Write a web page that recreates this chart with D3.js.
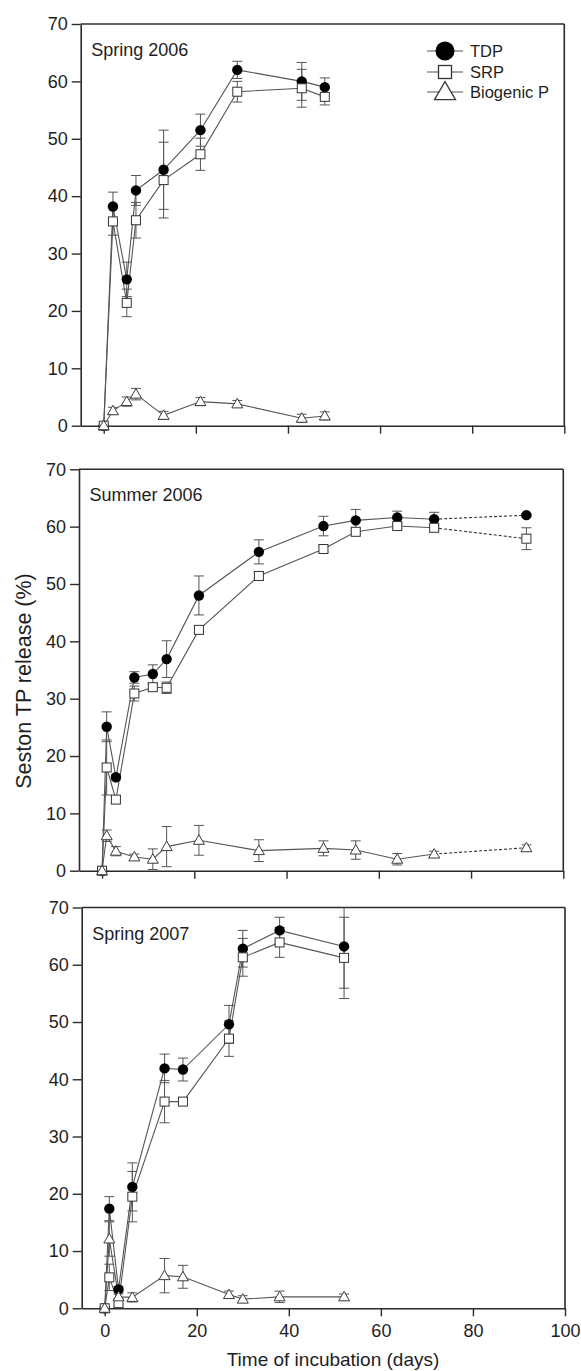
<!DOCTYPE html>
<html lang="en">
<head>
<meta charset="utf-8">
<script src="https://d3js.org/d3.v7.min.js"></script>
<style>
  body { margin: 0; background: #fff; }
  svg { display: block; font-family: "Liberation Sans", Arial, sans-serif; }
</style>
</head>
<body>
<svg id="chart" width="581" height="1371"></svg>
<script>
// ---- data ----
const xTicks = [0, 20, 40, 60, 80, 100];
const yTicks = [0, 10, 20, 30, 40, 50, 60, 70];
const seriesNames = ['TDP', 'SRP', 'Biogenic P'];
const panelTitles = ['Spring 2006', 'Summer 2006', 'Spring 2007'];

// Spring 2006
const daysSp06 = [0, 2, 5, 7, 13, 21, 29, 43, 48];
const tdpSp06 = [0, 38.2, 25.5, 41.0, 44.6, 51.5, 62.0, 60.0, 59.0];
const tdpErrSp06 = [0, 2.5, 3.0, 2.6, 6.9, 2.8, 1.5, 3.3, 1.6];
const srpSp06 = [0, 35.6, 21.4, 35.8, 42.8, 47.3, 58.2, 58.8, 57.3];
const srpErrSp06 = [0, 2.4, 2.4, 3.1, 6.6, 2.8, 1.8, 3.3, 1.4];
const bioSp06 = [0, 2.6, 4.2, 5.5, 1.8, 4.2, 3.8, 1.3, 1.7];
const bioErrSp06 = [0, 0.6, 0.8, 1.0, 0.7, 0.7, 0.6, 0.7, 0.7];

// Summer 2006 (last segment dashed)
const daysSu06 = [0, 1, 3, 7, 11, 14, 21, 34, 48, 55, 64, 72, 92];
const tdpSu06 = [0, 25.1, 16.3, 33.7, 34.3, 36.9, 48.0, 55.6, 60.1, 61.1, 61.6, 61.3, 62.0];
const tdpErrSu06 = [0, 2.6, 0.5, 1.0, 1.6, 3.2, 3.4, 2.1, 1.7, 1.9, 1.1, 1.2, 0.3];
const srpSu06 = [0, 18.0, 12.4, 30.9, 32.0, 31.9, 42.0, 51.4, 56.1, 59.1, 60.1, 59.8, 57.9];
const srpErrSu06 = [0, 4.8, 0.5, 1.3, 0.5, 1.0, 0.5, 0.6, 0.5, 0.5, 0.5, 0.5, 1.9];
const bioSu06 = [0, 6.1, 3.4, 2.4, 2.0, 4.2, 5.3, 3.5, 3.9, 3.6, 2.0, 2.9, 4.0];
const bioErrSu06 = [0, 1.0, 0.8, 0.5, 1.8, 3.5, 2.6, 1.9, 1.3, 1.6, 1.0, 0.5, 0.5];
const dashFromSu06 = 11;

// Spring 2007
const daysSp07 = [0, 1, 3, 6, 13, 17, 27, 30, 38, 52];
const tdpSp07 = [0, 17.4, 3.3, 21.2, 41.9, 41.7, 49.6, 62.8, 66.0, 63.2];
const tdpErrSp07 = [0, 2.1, 0.5, 4.2, 2.5, 2.0, 3.3, 3.2, 2.3, 7.3];
const srpSp07 = [0, 5.4, 0.9, 19.5, 36.1, 36.1, 47.1, 61.3, 63.9, 61.2];
const srpErrSp07 = [0, 2.3, 0.5, 4.4, 3.7, 0.5, 3.1, 3.3, 2.6, 7.1];
const bioSp07 = [0, 12.1, 2.0, 1.9, 5.7, 5.5, 2.4, 1.6, 2.0, 2.0];
const bioErrSp07 = [0, 3.0, 0.5, 0.8, 3.0, 2.0, 0.6, 0.6, 1.0, 0.5];

const panels = [
  { title: panelTitles[0], days: daysSp06, dashFrom: null,
    series: [[tdpSp06, tdpErrSp06], [srpSp06, srpErrSp06], [bioSp06, bioErrSp06]] },
  { title: panelTitles[1], days: daysSu06, dashFrom: dashFromSu06,
    series: [[tdpSu06, tdpErrSu06], [srpSu06, srpErrSu06], [bioSu06, bioErrSu06]] },
  { title: panelTitles[2], days: daysSp07, dashFrom: null,
    series: [[tdpSp07, tdpErrSp07], [srpSp07, srpErrSp07], [bioSp07, bioErrSp07]] }
];

// ---- layout ----
const frames = [
  { top: 24, bottom: 425.7, left: 80.7, right: 564.3 },
  { top: 469.3, bottom: 870.7, left: 79, right: 563.3 },
  { top: 907.5, bottom: 1308.3, left: 81.7, right: 565 }
];
const axisColor = '#2b2b2b';
const lineColor = '#555';
const textColor = '#1e1e1e';

const svg = d3.select('#chart');

// marker drawing helpers
const triPath = (w, h) => `M0,${-h * 0.58}L${w / 2},${h * 0.42}L${-w / 2},${h * 0.42}Z`;
function drawMarker(sel, kind, big) {
  if (kind === 0) {
    sel.append('circle').attr('r', big ? 9.5 : 5.2).attr('fill', '#000');
  } else if (kind === 1) {
    const s = big ? 13 : 9;
    sel.append('rect').attr('x', -s / 2).attr('y', -s / 2).attr('width', s).attr('height', s)
      .attr('fill', '#fff').attr('stroke', '#333').attr('stroke-width', big ? 1.3 : 1);
  } else {
    sel.append('path').attr('d', big ? triPath(21, 18) : triPath(11, 9.5))
      .attr('fill', '#fff').attr('stroke', '#3a3a3a').attr('stroke-width', big ? 1.3 : 1);
  }
}

panels.forEach((p, pi) => {
  const f = frames[pi];
  const x = d3.scaleLinear().domain([-5, 100]).range([f.left, f.right]);
  const y = d3.scaleLinear().domain([0, 70]).range([f.bottom, f.top]);
  const g = svg.append('g');

  const clipId = 'clip' + pi;
  svg.append('clipPath').attr('id', clipId).append('rect')
    .attr('x', f.left).attr('y', f.top).attr('width', f.right - f.left).attr('height', f.bottom - f.top);

  // axes
  const yAxis = g.append('g').attr('transform', `translate(${f.left},0)`)
    .call(d3.axisLeft(y).tickValues(yTicks).tickSize(9).tickPadding(4).tickSizeOuter(0));
  const xAxis = g.append('g').attr('transform', `translate(0,${f.bottom})`)
    .call(d3.axisBottom(x).tickValues(xTicks).tickSize(8).tickPadding(8).tickSizeOuter(0)
      .tickFormat(pi === 2 ? d3.format('d') : () => ''));
  [yAxis, xAxis].forEach(a => {
    a.select('.domain').attr('stroke', axisColor).attr('stroke-width', 1.6);
    a.selectAll('.tick line').attr('stroke', axisColor).attr('stroke-width', 1.4);
    a.selectAll('.tick text').attr('fill', textColor).attr('font-size', 18)
      .attr('font-family', '"Liberation Sans", Arial, sans-serif');
  });
  // top and right frame
  g.append('line').attr('x1', f.left).attr('x2', f.right).attr('y1', f.top).attr('y2', f.top)
    .attr('stroke', axisColor).attr('stroke-width', 1.6);
  g.append('line').attr('x1', f.right).attr('x2', f.right).attr('y1', f.top).attr('y2', f.bottom)
    .attr('stroke', axisColor).attr('stroke-width', 1.6);

  g.append('text').attr('x', f.left + 10.5).attr('y', f.top + 32)
    .attr('font-size', 18).attr('fill', textColor).text(p.title);

  const plot = g.append('g').attr('clip-path', `url(#${clipId})`);
  const line = d3.line().x(d => x(d.x)).y(d => y(d.y));

  const pts = p.series.map(([vals, errs]) => p.days.map((d, i) => ({ x: d, y: vals[i], e: errs[i] })));

  // connecting lines
  pts.forEach(s => {
    const solid = p.dashFrom == null ? s : s.slice(0, p.dashFrom + 1);
    plot.append('path').attr('d', line(solid)).attr('fill', 'none')
      .attr('stroke', lineColor).attr('stroke-width', 1.1);
    if (p.dashFrom != null) {
      plot.append('path').attr('d', line(s.slice(p.dashFrom))).attr('fill', 'none')
        .attr('stroke', '#333').attr('stroke-width', 1.1).attr('stroke-dasharray', '3,2');
    }
  });

  // error bars
  pts.forEach(s => {
    s.filter(d => d.e > 0).forEach(d => {
      const eg = plot.append('g').attr('stroke', lineColor).attr('stroke-width', 1);
      eg.append('line').attr('x1', x(d.x)).attr('x2', x(d.x)).attr('y1', y(d.y - d.e)).attr('y2', y(d.y + d.e));
      [d.y - d.e, d.y + d.e].forEach(v => {
        eg.append('line').attr('x1', x(d.x) - 5).attr('x2', x(d.x) + 5).attr('y1', y(v)).attr('y2', y(v));
      });
    });
  });

  // markers
  pts.forEach((s, k) => {
    s.forEach(d => {
      const m = g.append('g').attr('transform', `translate(${x(d.x)},${y(d.y)})`);
      drawMarker(m, k, false);
    });
  });

  // legend only in the first panel
  if (pi === 0) {
    const rows = [51, 72, 92];
    seriesNames.forEach((name, k) => {
      const lg = g.append('g').attr('transform', `translate(445,${rows[k]})`);
      lg.append('line').attr('x1', -18).attr('x2', 18).attr('stroke', lineColor).attr('stroke-width', 1.1);
      drawMarker(lg, k, true);
      lg.append('text').attr('x', 25).attr('y', 6).attr('font-size', 16.5)
        .attr('fill', textColor).text(name);
    });
  }
});

// axis titles
svg.append('text')
  .attr('transform', 'translate(31,681) rotate(-90)')
  .attr('text-anchor', 'middle').attr('font-size', 21.5).attr('fill', textColor)
  .text('Seston TP release (%)');
svg.append('text')
  .attr('x', 333).attr('y', 1366)
  .attr('text-anchor', 'middle').attr('font-size', 19).attr('fill', textColor)
  .text('Time of incubation (days)');
</script>
</body>
</html>
